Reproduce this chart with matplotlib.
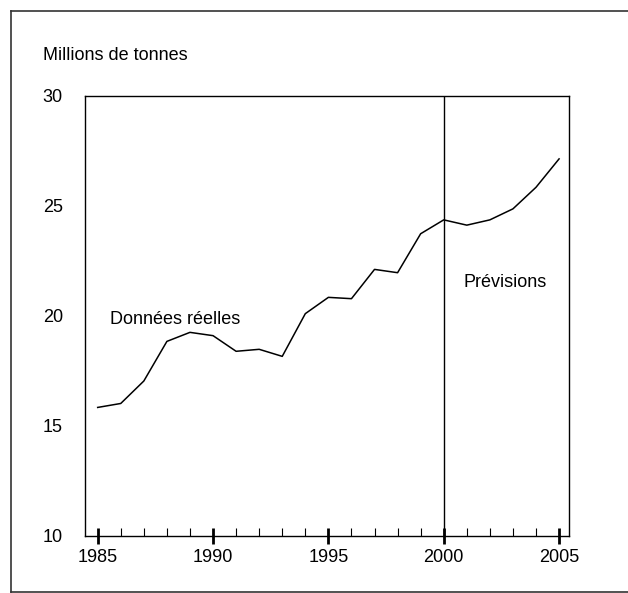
import numpy as np
import matplotlib
matplotlib.use('Agg')
import matplotlib.pyplot as plt
from matplotlib.lines import Line2D
from matplotlib.ticker import MultipleLocator

plt.rcParams['font.family'] = ['Liberation Sans', 'DejaVu Sans']

# Production en millions de tonnes (1985-2000 réel, 2001-2005 prévisions)
years = np.arange(1985, 2006)
values = [15.84, 16.02, 17.04, 18.84, 19.25, 19.10, 18.39, 18.48, 18.16, 20.10,
          20.84, 20.78, 22.11, 21.96, 23.73, 24.36, 24.12, 24.36, 24.86, 25.84, 27.13]
ytick_values = [10, 15, 20, 25, 30]
xtick_values = [1985, 1990, 1995, 2000, 2005]

W, H = 628, 593
fig = plt.figure(figsize=(W / 100, H / 100), dpi=100)
ax = fig.add_axes([85 / W, 1 - 536 / H, (569 - 85) / W, (536 - 95.7) / H])

ax.plot(years, values, color='black', lw=1.1)
ax.axvline(2000, color='black', lw=1.0)

ax.set_xlim(1984.45, 2005.43)
ax.set_ylim(10, 30)
ax.set_xticks(xtick_values)
ax.set_yticks(ytick_values)
ax.xaxis.set_minor_locator(MultipleLocator(1))

ax.tick_params(axis='x', which='major', direction='inout', length=11, width=2.0,
               labelsize=13, pad=4, color='black')
ax.tick_params(axis='x', which='minor', direction='in', length=6, width=0.8, color='black')
ax.tick_params(axis='y', which='both', length=0, labelsize=13, pad=16)

for s in ax.spines.values():
    s.set_linewidth(1.0)
    s.set_color('black')

ax.text(1985.55, 19.84, 'Données réelles', fontsize=13, va='center', ha='left')
ax.text(2000.85, 21.53, 'Prévisions', fontsize=13, va='center', ha='left')

fig.text(43 / W, 1 - 55 / H, 'Millions de tonnes', fontsize=13, va='center', ha='left')

# cadre extérieur
bx0, by0, bx1, by1 = 11 / W, 1 - 592 / H, 1.0, 1 - 11 / H
for xs, ys in [([bx0, bx0], [by0, by1]), ([bx0, bx1], [by1, by1]), ([bx0, bx1], [by0, by0])]:
    fig.add_artist(Line2D(xs, ys, transform=fig.transFigure, color='#333333', lw=1.2))

fig.savefig('out.png', dpi=100)
